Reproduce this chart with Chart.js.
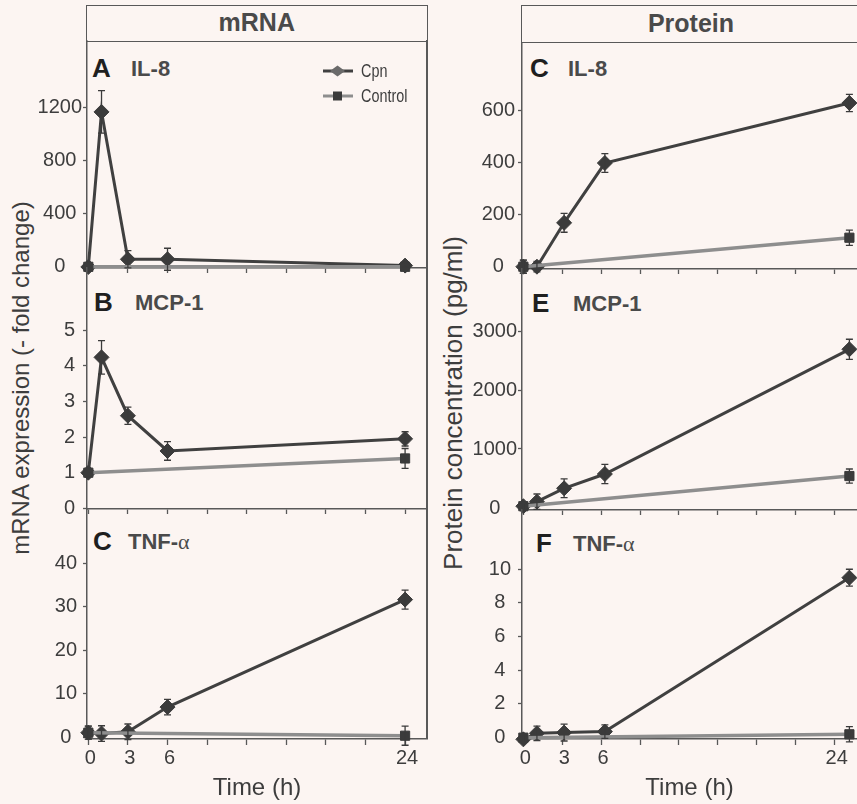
<!DOCTYPE html>
<html>
<head>
<meta charset="utf-8">
<script src="https://cdn.jsdelivr.net/npm/chart.js@4.4.0/dist/chart.umd.min.js"></script>
<style>
  html, body { margin: 0; padding: 0; }
  body {
    width: 857px; height: 804px; position: relative; overflow: hidden;
    background: #fcf5f2; color: #3d3d3d;
    font-family: "Liberation Sans", Arial, sans-serif;
  }
  canvas { position: absolute; }
  .head {
    position: absolute; box-sizing: border-box; border: 1.5px solid #595959;
    text-align: center; font-weight: bold; font-size: 25px; color: #4a4a4a;
  }
  .vline { position: absolute; background: #595959; width: 1.5px; }
  .ytitle {
    position: absolute; white-space: nowrap; line-height: 1.2;
    transform: translate(-50%, -50%) rotate(-90deg);
  }
  .lbl { position: absolute; white-space: nowrap; font-weight: bold; }
  .greek { font-family: "Liberation Serif", "DejaVu Serif", serif; font-weight: normal; }
</style>
</head>
<body>

<div class="head" style="left:86px; top:5px; width:341.5px; height:36.5px; line-height:33.5px;">mRNA</div>
<div class="vline" style="left:426px; top:40px; height:699px;"></div>
<div class="head" style="left:521px; top:5px; width:340px; height:38px; line-height:35px;">Protein</div>

<div class="ytitle" style="left:21px; top:378px; font-size:24px;">mRNA expression (- fold change)</div>
<div class="ytitle" style="left:454px; top:403px; font-size:26px;">Protein concentration (pg/ml)</div>

<script>
// Sampling times (h)
const hours = [0, 1, 3, 6, 24];
const ctrlHours = [0, 24];
const xTickHours = [0, 3, 6, 9, 12, 15, 18, 21, 24];
const xTickLabels = ['0', '3', '6', '24'];

// mRNA (- fold change)
const il8MrnaCpn = [0, 1170, 58, 58, 10];
const il8MrnaCpnErr = [0, 160, 65, 83, 10];
const il8MrnaCtrl = [1, 1];
const il8MrnaCtrlErr = [0, 0];
const il8MrnaTicks = [0, 400, 800, 1200];

const mcpMrnaCpn = [1, 4.24, 2.6, 1.61, 1.95];
const mcpMrnaCpnErr = [0, 0.47, 0.24, 0.26, 0.2];
const mcpMrnaCtrl = [1, 1.4];
const mcpMrnaCtrlErr = [0, 0.28];
const mcpMrnaTicks = [0, 1, 2, 3, 4, 5];

const tnfMrnaCpn = [1, 0.8, 1.2, 6.9, 31.7];
const tnfMrnaCpnErr = [1.5, 1.8, 1.8, 1.8, 2.2];
const tnfMrnaCtrl = [1, 0.3];
const tnfMrnaCtrlErr = [1.5, 2.2];
const tnfMrnaTicks = [0, 10, 20, 30, 40];

// Protein (pg/ml)
const il8ProtCpn = [0, 0, 168, 397, 627];
const il8ProtCpnErr = [25, 20, 36, 36, 33];
const il8ProtCtrl = [0, 111];
const il8ProtCtrlErr = [25, 29];
const il8ProtTicks = [0, 200, 400, 600];

const mcpProtCpn = [30, 107, 334, 576, 2690];
const mcpProtCpnErr = [60, 130, 158, 164, 170];
const mcpProtCtrl = [30, 542];
const mcpProtCtrlErr = [60, 119];
const mcpProtTicks = [0, 1000, 2000, 3000];

const tnfProtCpn = [-0.1, 0.26, 0.3, 0.36, 9.5];
const tnfProtCpnErr = [0.2, 0.43, 0.5, 0.4, 0.5];
const tnfProtCtrl = [0, 0.2];
const tnfProtCtrlErr = [0.2, 0.45];
const tnfProtTicks = [0, 2, 4, 6, 8, 10];

// Styles
const axisColor = '#595959';
const textColor = '#3d3d3d';
const cpnLine = '#404040';
const ctrlLine = '#8e8e8e';
const markerColor = '#3b3b3b';
const fontFamily = '"Liberation Sans", Arial, sans-serif';

// In the protein column the printed time axis is a little shorter than the plotted data
const cols = [
  { left: 0, width: 430, padRight: 3, yw: 87, xMin: -0.1, xMax: 25.66, tickMax: 25.66 },
  { left: 435, width: 422, padRight: 0, yw: 87, xMin: -0.1, xMax: 24.56, tickMax: 25.72 }
];

const panels = [
  { col: 0, top: 41, bottom: 268, xh: 10, yMin: -8, yMax: 1705, yTicks: il8MrnaTicks, tickPad: 1,
    cpn: il8MrnaCpn, cpnErr: il8MrnaCpnErr, ctrl: il8MrnaCtrl, ctrlErr: il8MrnaCtrlErr, legend: true },
  { col: 0, top: 268, bottom: 509, xh: 10, yMin: -0.02, yMax: 6.75, yTicks: mcpMrnaTicks, tickPad: 8,
    cpn: mcpMrnaCpn, cpnErr: mcpMrnaCpnErr, ctrl: mcpMrnaCtrl, ctrlErr: mcpMrnaCtrlErr },
  { col: 0, top: 509, bottom: 739, xh: 65, yMin: -0.46, yMax: 52.6, yTicks: tnfMrnaTicks, tickPad: 6, last: true,
    cpn: tnfMrnaCpn, cpnErr: tnfMrnaCpnErr, ctrl: tnfMrnaCtrl, ctrlErr: tnfMrnaCtrlErr },
  { col: 1, top: 42.5, bottom: 269, xh: 10, yMin: -8.8, yMax: 856.7, yTicks: il8ProtTicks, tickPad: 3,
    cpn: il8ProtCpn, cpnErr: il8ProtCpnErr, ctrl: il8ProtCtrl, ctrlErr: il8ProtCtrlErr },
  { col: 1, top: 269, bottom: 510, xh: 10, yMin: -34, yMax: 4051, yTicks: mcpProtTicks, tickPad: 1,
    cpn: mcpProtCpn, cpnErr: mcpProtCpnErr, ctrl: mcpProtCtrl, ctrlErr: mcpProtCtrlErr },
  { col: 1, top: 510, bottom: 739, xh: 65, yMin: -0.08, yMax: 13.52, yTicks: tnfProtTicks, tickPad: 7, last: true,
    cpn: tnfProtCpn, cpnErr: tnfProtCpnErr, ctrl: tnfProtCtrl, ctrlErr: tnfProtCtrlErr }
];

// Panel letters and gene names (x, baseline)
const labels = [
  { letter: 'A', lx: 92, name: 'IL-8', nx: 131, base: 77 },
  { letter: 'B', lx: 94, name: 'MCP-1', nx: 135, base: 311 },
  { letter: 'C', lx: 93, name: 'TNF-', greek: 'α', nx: 128, base: 550 },
  { letter: 'C', lx: 530, name: 'IL-8', nx: 568, base: 77 },
  { letter: 'E', lx: 532, name: 'MCP-1', nx: 573, base: 312 },
  { letter: 'F', lx: 536, name: 'TNF-', greek: 'α', nx: 573, base: 552 }
];

function addText(html, x, base, size, color) {
  const d = document.createElement('div');
  d.className = 'lbl';
  d.style.left = x + 'px';
  d.style.top = (base - 0.8465 * size) + 'px';
  d.style.fontSize = size + 'px';
  d.style.lineHeight = size + 'px';
  d.style.color = color;
  d.innerHTML = html;
  document.body.appendChild(d);
}

labels.forEach(l => {
  addText(l.letter, l.lx, l.base, 26, '#1f1f1f');
  const g = l.greek ? '<span class="greek" style="line-height:22px">' + l.greek + '</span>' : '';
  addText(l.name + g, l.nx, l.base, 22, '#4a4a4a');
});

const toPoints = (xs, ys) => xs.map((x, i) => ({ x: x, y: ys[i] }));

// Vertical error bars with small caps
const errorBarPlugin = {
  id: 'errorBars',
  afterDatasetsDraw(chart) {
    const ctx = chart.ctx;
    const ys = chart.scales.y;
    chart.data.datasets.forEach((ds, i) => {
      const meta = chart.getDatasetMeta(i);
      ctx.save();
      ctx.strokeStyle = markerColor;
      ctx.lineWidth = 1.3;
      meta.data.forEach((pt, j) => {
        const e = ds.errors[j];
        if (!e) return;
        const v = ds.data[j].y;
        const t = ys.getPixelForValue(v + e);
        const b = ys.getPixelForValue(v - e);
        ctx.beginPath();
        ctx.moveTo(pt.x, t); ctx.lineTo(pt.x, b);
        ctx.moveTo(pt.x - 3.5, t); ctx.lineTo(pt.x + 3.5, t);
        ctx.moveTo(pt.x - 3.5, b); ctx.lineTo(pt.x + 3.5, b);
        ctx.stroke();
      });
      ctx.restore();
    });
  }
};

// Legend drawn inside panel A
const legendPlugin = {
  id: 'sketchLegend',
  afterDraw(chart, args, opts) {
    if (!opts.show) return;
    const ctx = chart.ctx;
    const a = chart.chartArea;
    const x0 = a.right - 104, x1 = a.right - 74, mx = a.right - 89.5, tx = a.right - 66;
    const rows = [
      { y: a.top + 30, text: 'Cpn', line: cpnLine, marker: '#6a6a6a', shape: 'diamond' },
      { y: a.top + 55, text: 'Control', line: ctrlLine, marker: markerColor, shape: 'square' }
    ];
    ctx.save();
    rows.forEach(r => {
      ctx.strokeStyle = r.line;
      ctx.lineWidth = 3;
      ctx.beginPath(); ctx.moveTo(x0, r.y); ctx.lineTo(x1, r.y); ctx.stroke();
      ctx.fillStyle = r.marker;
      ctx.beginPath();
      if (r.shape === 'diamond') {
        ctx.moveTo(mx - 7.5, r.y); ctx.lineTo(mx, r.y - 5.5);
        ctx.lineTo(mx + 7.5, r.y); ctx.lineTo(mx, r.y + 5.5);
        ctx.closePath();
      } else {
        ctx.rect(mx - 4.5, r.y - 4.5, 9, 9);
      }
      ctx.fill();
      // condensed text, like the narrow face of the original
      ctx.save();
      ctx.translate(tx, r.y + 1);
      ctx.scale(0.8, 1);
      ctx.fillStyle = textColor;
      ctx.font = '18px ' + fontFamily;
      ctx.textBaseline = 'middle';
      ctx.fillText(r.text, 0, 0);
      ctx.restore();
    });
    ctx.restore();
  }
};

function drawPanel(p) {
  const col = cols[p.col];
  const padTop = 12;
  const canvas = document.createElement('canvas');
  canvas.width = col.width;
  canvas.height = padTop + (p.bottom - p.top) + p.xh;
  canvas.style.left = col.left + 'px';
  canvas.style.top = (p.top - padTop) + 'px';
  document.body.appendChild(canvas);

  new Chart(canvas, {
    type: 'line',
    data: {
      datasets: [
        {
          label: 'Control', data: toPoints(ctrlHours, p.ctrl), errors: p.ctrlErr,
          borderColor: ctrlLine, borderWidth: 3.5, clip: false,
          pointStyle: 'rect', pointRadius: 6.5,
          pointBackgroundColor: markerColor, pointBorderColor: markerColor, pointBorderWidth: 1
        },
        {
          label: 'Cpn', data: toPoints(hours, p.cpn), errors: p.cpnErr,
          borderColor: cpnLine, borderWidth: 3, clip: false,
          pointStyle: 'rectRot', pointRadius: 7.5,
          pointBackgroundColor: markerColor, pointBorderColor: markerColor, pointBorderWidth: 1
        }
      ]
    },
    options: {
      responsive: false,
      animation: false,
      events: [],
      layout: { autoPadding: false, padding: { top: padTop, right: col.padRight, left: 0, bottom: 0 } },
      plugins: {
        legend: { display: false },
        tooltip: { enabled: false },
        sketchLegend: { show: !!p.legend }
      },
      scales: {
        // data axis (not drawn)
        x: { type: 'linear', display: false, bounds: 'data', min: col.xMin, max: col.xMax },
        // printed time axis
        xt: {
          type: 'linear', position: 'bottom', bounds: 'data', min: col.xMin, max: col.tickMax,
          afterBuildTicks: s => { s.ticks = xTickHours.map(v => ({ value: v })); },
          afterFit: s => { s.height = p.xh; s.paddingLeft = 0; s.paddingRight = 0; },
          grid: { display: true, drawOnChartArea: false, drawTicks: true, tickLength: p.last ? 6 : 5,
                  tickColor: axisColor, tickWidth: 1.3 },
          border: { display: true, color: axisColor, width: 1.5 },
          ticks: {
            display: true, autoSkip: false, maxRotation: 0, padding: 1, labelOffset: 2,
            color: textColor, font: { size: 20, family: fontFamily },
            callback: v => (p.last && xTickLabels.includes(String(v))) ? String(v) : ''
          },
          title: {
            display: !!p.last, text: 'Time (h)', color: textColor,
            font: { size: 24, family: fontFamily },
            padding: { top: 0, bottom: 1 }
          }
        },
        y: {
          bounds: 'data', min: p.yMin, max: p.yMax,
          afterBuildTicks: s => { s.ticks = p.yTicks.map(v => ({ value: v })); },
          afterFit: s => { s.width = col.yw; s.paddingTop = 0; s.paddingBottom = 0; },
          grid: { display: true, drawOnChartArea: false, drawTicks: true, tickLength: 4,
                  tickColor: axisColor, tickWidth: 1.3 },
          border: { display: true, color: axisColor, width: 1.5 },
          ticks: {
            crossAlign: 'center', padding: p.tickPad, color: textColor,
            font: { size: 20, family: fontFamily },
            callback: v => String(v)
          }
        }
      }
    },
    plugins: [errorBarPlugin, legendPlugin]
  });
}

panels.forEach(drawPanel);
</script>
</body>
</html>
